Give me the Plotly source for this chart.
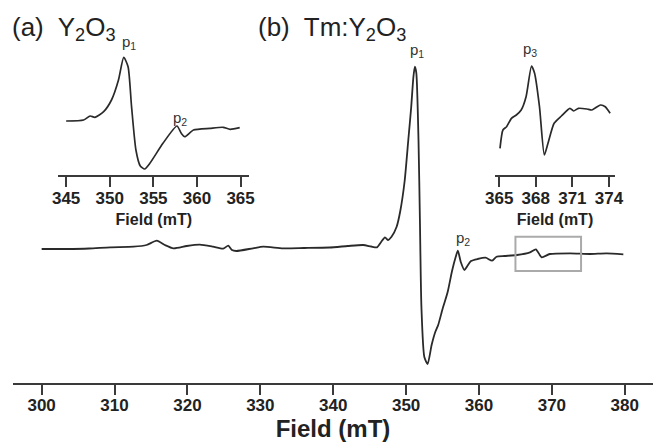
import plotly.graph_objects as go

# ---------------- data ----------------
# main spectrum Tm:Y2O3 (field in mT, intensity in arbitrary units)
main_field = [300.0, 303.4, 306.5, 309.4, 312.6, 314.4, 315.8, 316.9, 318.1, 319.9,
              321.7, 323.5, 324.9, 325.6, 326.1, 326.7, 329.0, 330.4, 333.1, 336.0,
              339.5, 342.0, 344.1, 345.2, 346.0, 346.6, 347.1, 347.5, 348.0, 348.7,
              349.2, 349.8, 350.3, 350.7, 351.0, 351.2, 351.4, 351.7, 351.9, 352.1,
              352.5, 352.95, 353.5, 354.0, 354.4, 355.0, 355.7, 356.3, 356.8, 357.1,
              357.5, 358.0, 358.4, 358.9, 359.8, 360.9, 361.8, 362.4, 363.5, 365.2,
              367.0, 367.8, 368.6, 369.7, 372.5, 375.2, 377.5, 379.8]
main_int = [0.0, 0.0, 0.5, 1.7, 2.3, 4.0, 8.3, 4.0, 0.7, 3.0,
            4.3, 2.3, 0.3, 3.3, -1.0, -2.0, 0.7, 2.3, 0.7, 1.0,
            1.5, 3.0, 4.0, 2.5, 1.7, 7.3, 11.7, 9.0, 12.3, 22.3,
            38.0, 68.0, 109.0, 142.0, 172.0, 182.3, 176.0, 109.0, 26.0, -58.0,
            -108.0, -115.0, -96.0, -83.0, -76.0, -60.0, -43.0, -22.0, -8.0, -1.7,
            -13.0, -21.0, -17.0, -12.0, -10.0, -8.7, -11.7, -7.7, -7.0, -6.0,
            -3.3, -0.3, -8.3, -5.0, -4.3, -5.0, -4.3, -5.3]

# inset (a): Y2O3
ya_field = [345.0, 347.0, 347.75, 348.3, 349.3, 350.2, 351.0, 351.6, 352.1, 352.5,
            353.0, 353.5, 354.0, 354.6, 356.1, 357.7, 358.2, 358.6, 359.6, 361.5,
            363.0, 363.8, 364.9]
ya_int = [54.0, 55.0, 59.0, 57.7, 63.3, 75.0, 95.0, 117.7, 108.3, 68.3,
          25.0, 9.0, 6.0, 11.7, 31.7, 49.0, 41.7, 38.3, 45.0, 46.7,
          47.7, 45.7, 47.3]

# inset (b): Tm:Y2O3, 365-374 mT region
yb_field = [365.06, 365.3, 365.6, 366.0, 366.4, 366.8, 367.2, 367.65, 367.9, 368.3,
            368.7, 369.0, 369.5, 370.1, 370.8, 371.1, 371.5, 372.2, 372.6, 373.3,
            373.7, 374.1]
yb_int = [26.7, 45.0, 48.3, 56.7, 60.0, 65.0, 78.3, 109.0, 101.7, 68.3,
          20.0, 31.7, 51.7, 59.0, 66.7, 64.0, 66.7, 66.0, 65.0, 70.0,
          68.3, 61.7]

main_ticks = [300, 310, 320, 330, 340, 350, 360, 370, 380]
a_ticks = [345, 350, 355, 360, 365]
b_ticks = [365, 368, 371, 374]

# peak labels: (text, field, intensity, axis)
peak_labels = [("p<sub>1</sub>", 351.5, 199.0, "main"),
               ("p<sub>2</sub>", 357.8, 10.7, "main"),
               ("p<sub>1</sub>", 352.2, 133.0, "a"),
               ("p<sub>2</sub>", 358.1, 57.0, "a"),
               ("p<sub>3</sub>", 367.5, 126.0, "b")]
box_region = [365.0, 374.0, -22.0, 12.3]

# ---------------- figure ----------------
W, H = 653, 442
LINE = "#2a2a2a"
AX = "#3a3a3a"
FONT = "Liberation Sans"

def px_x(p):
    return p / W

def px_y(p):
    return (H - p) / H

fig = go.Figure()
for fx, fy, xa, ya, w in [(main_field, main_int, "x", "y", 1.8),
                          (ya_field, ya_int, "x2", "y2", 1.7),
                          (yb_field, yb_int, "x3", "y3", 1.7)]:
    fig.add_trace(go.Scatter(x=fx, y=fy, mode="lines",
                             line=dict(color=LINE, width=w, shape="spline", smoothing=0.6),
                             xaxis=xa, yaxis=ya, showlegend=False, hoverinfo="skip"))

tickfont = dict(family=FONT, size=17, color="#222", weight="bold")

def xaxis_common(ticks, title_size, standoff, domain, rng, anchor, lab_off):
    return dict(domain=domain, range=rng, anchor=anchor, tickvals=ticks,
                ticktext=[str(t) for t in ticks], automargin=False,
                showline=True, linecolor=AX, linewidth=2,
                ticks="outside", ticklen=10, tickwidth=2, tickcolor=AX,
                ticklabelstandoff=lab_off,
                showgrid=False, zeroline=False, tickfont=tickfont,
                title=dict(text="Field (mT)", standoff=standoff,
                           font=dict(family=FONT, size=title_size, color="#222", weight="bold")))

fig.update_layout(
    width=W, height=H,
    margin=dict(l=0, r=0, t=0, b=0, autoexpand=False),
    paper_bgcolor="white", plot_bgcolor="rgba(0,0,0,0)",
    xaxis=xaxis_common(main_ticks, 24, 4, [px_x(13), 1.0], [296.07, 383.87], "y", -4),
    yaxis=dict(domain=[px_y(382.7), 1.0], range=[-133.7, 249.0], visible=False),
    xaxis2=xaxis_common(a_ticks, 16, 6, [px_x(58.3), px_x(249.3)], [344.1, 366.0], "y2", -3),
    yaxis2=dict(domain=[px_y(175), px_y(40)], range=[0, 135], visible=False),
    xaxis3=xaxis_common(b_ticks, 16, 6, [px_x(495), px_x(615)], [364.65, 374.5], "y3", -3),
    yaxis3=dict(domain=[px_y(175), px_y(40)], range=[0, 135], visible=False),
)

axis_map = {"main": ("x", "y"), "a": ("x2", "y2"), "b": ("x3", "y3")}
for text, fx, fy, ax in peak_labels:
    xr, yr = axis_map[ax]
    fig.add_annotation(text=text, x=fx, y=fy, xref=xr, yref=yr, showarrow=False,
                       font=dict(family=FONT, size=15, color="#333"),
                       xanchor="center", yanchor="middle")

fig.add_shape(type="rect", xref="x", yref="y",
              x0=box_region[0], x1=box_region[1], y0=box_region[2], y1=box_region[3],
              line=dict(color="#aaaaaa", width=2), fillcolor="rgba(0,0,0,0)")

fig.add_annotation(text="(a)  Y<sub>2</sub>O<sub>3</sub>", x=px_x(10), y=px_y(28),
                   xref="paper", yref="paper", showarrow=False, xanchor="left", yanchor="middle",
                   font=dict(family=FONT, size=26, color="#222"))
fig.add_annotation(text="(b)  Tm:Y<sub>2</sub>O<sub>3</sub>", x=px_x(256), y=px_y(28),
                   xref="paper", yref="paper", showarrow=False, xanchor="left", yanchor="middle",
                   font=dict(family=FONT, size=26, color="#222"))

fig.write_html("out.html")
